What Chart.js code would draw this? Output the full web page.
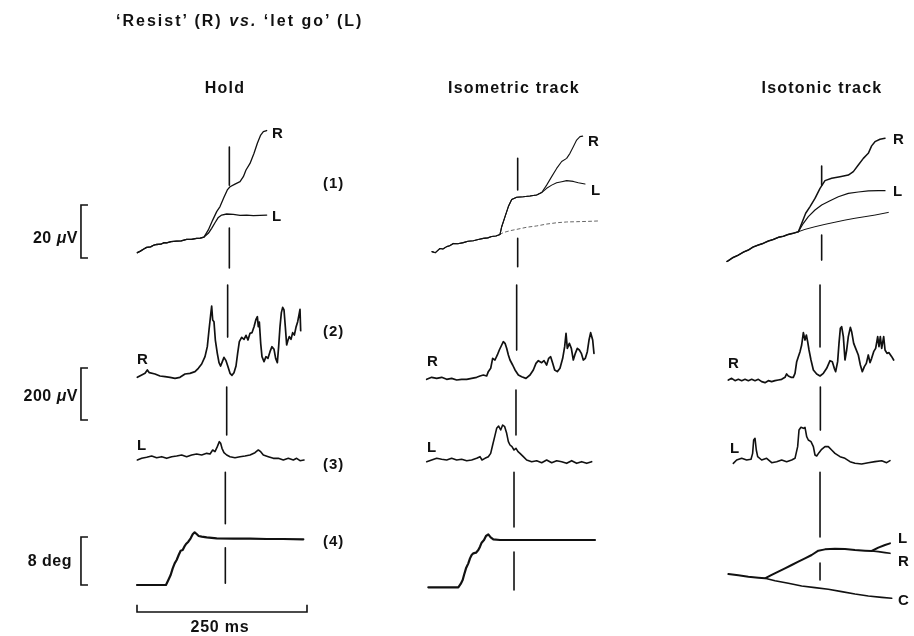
<!DOCTYPE html>
<html><head><meta charset="utf-8">
<script src="https://cdn.jsdelivr.net/npm/chart.js@4.4.1/dist/chart.umd.min.js"></script>
<style>
html,body{margin:0;padding:0;background:#fff;}
#wrap{position:relative;width:914px;height:636px;overflow:hidden;background:#fff;}
#c{position:absolute;left:0;top:0;}
.t{position:absolute;font-family:"Liberation Sans",Arial,sans-serif;font-weight:bold;color:#111;white-space:nowrap;line-height:1;}
</style></head><body>
<div id="wrap"><canvas id="c" width="914" height="636"></canvas></div>
<script>
// ---------- DATA (time in ms, amplitude in µV or deg) ----------
const columns = ['Hold', 'Isometric track', 'Isotonic track'];
const rowLabels = ['(1)', '(2)', '(3)', '(4)'];
const scaleBars = {uV20: 20, uV200: 200, deg8: 8, ms250: 250};

// Row 1 (20 µV scale)
const hold1Base = [[0.5,2.0],[5,2.6],[10,3.4],[14.2,4.0],[20,4.2],[25,4.9],[28.9,5.1],[35,5.2],[40,5.8],[43.6,5.7],[50,6.2],[58.3,6.4],[65,6.5],[73,7.0],[80,7.0],[87.7,7.4],[93,7.5],[98.5,7.9]];
const hold1R = [[104.9,10.6],[111.3,14.3],[117.2,17.5],[122.1,19.4],[127.9,22.9],[132.8,25.7],[136.8,26.9],[144.1,27.9],[151.5,28.8],[156.4,30.7],[160.3,33.2],[166.2,35.7],[172.1,39.5],[177.0,43.3],[181.9,46.4],[185.8,47.7],[190.7,48.1]];
const hold1L = [[104.9,9.3],[109.8,11.2],[114.7,13.3],[119.6,15.3],[124.5,16.2],[131.9,16.6],[141.7,16.5],[151.5,16.1],[161.3,16.2],[171.1,16.0],[180.9,16.1],[190.7,16.2]];

const isom1Base = [[0,2.4],[5,2.0],[11.8,3.6],[16,3.4],[21.6,4.3],[26,4.6],[31.4,5.5],[38,5.4],[46.1,5.8],[53,6.3],[60.8,6.5],[68,7.0],[75.5,7.4],[82,7.6],[87.7,8.1],[94,8.3],[100,8.9]];
const isom1Up = [[102.5,11.8],[107.4,15.6],[112.3,19.4],[117.2,22.1],[124.5,22.9],[134.3,23.1],[144.1,23.4],[153.9,23.8],[161.3,24.7]];
const isom1R = [[168.6,27.5],[176.0,30.7],[183.3,33.8],[190.7,36.4],[198.0,37.6],[202.9,39.5],[207.8,42.0],[212.7,44.5],[217.6,45.8],[221.6,46.0]];
const isom1L = [[168.6,26.3],[176.0,27.5],[183.3,28.4],[190.7,28.8],[198.0,29.2],[207.8,28.9],[215.2,28.4],[225.0,27.9]];
const isom1C = [[100,8.9],[104.9,9.6],[114.7,10.3],[124.5,10.8],[139.2,11.6],[153.9,12.1],[168.6,12.8],[183.3,13.3],[198.0,13.6],[212.7,13.7],[227.5,13.8],[247.1,14.0]];

const isot1Base = [[0,-1.3],[2,-1.0],[9,0.2],[16.7,1.1],[24,2.2],[31.4,3.0],[38,4.1],[46.1,4.9],[53,5.5],[60.8,6.4],[68,7.0],[75.5,7.8],[83,8.2],[90.2,8.9],[97,9.3],[104.9,9.9]];
const isot1R = [[110.8,13.7],[115.7,16.9],[122.1,19.4],[129.4,22.5],[136.8,26.3],[144.1,29.2],[153.9,30.1],[166.2,30.7],[178.4,31.3],[185.8,32.6],[193.1,35.1],[200.5,37.6],[207.8,39.5],[212.7,42.3],[217.6,43.9],[225.0,44.8],[232.4,45.2]];
const isot1L = [[112.3,13.1],[119.6,15.6],[129.4,18.1],[139.2,20.0],[151.5,21.6],[163.7,23.1],[178.4,24.4],[193.1,24.9],[207.8,25.3],[222.5,25.4],[232.4,25.4]];
const isot1C = [[114.7,10.8],[129.4,11.8],[144.1,12.7],[158.8,13.5],[173.5,14.3],[188.2,15.0],[202.9,15.6],[217.6,16.2],[237.3,17.2]];

// Row 2 (EMG, 'resist', 200 µV scale)
const hold2R = [[0.5,10.3],[6.9,19.2],[11.8,25.6],[15.2,38.5],[18.1,28.2],[26.5,23.1],[33.8,15.4],[41.2,12.8],[48.5,10.3],[55.9,6.4],[63.2,10.3],[70.6,23.1],[77.9,25.6],[85.3,32.1],[90.2,44.9],[95.1,61.5],[100.0,89.7],[103.4,128.2],[105.9,192.3],[108.3,250.0],[109.8,284.6],[111.3,230.8],[113.2,224.4],[115.2,153.8],[118.1,102.6],[120.6,66.7],[123.0,53.8],[125.5,70.5],[127.9,87.2],[130.9,74.4],[133.8,51.3],[136.8,25.6],[139.7,17.9],[142.6,28.2],[145.6,53.8],[148.0,102.6],[150.5,147.4],[153.9,164.1],[157.4,156.4],[160.3,171.8],[163.2,153.8],[166.2,179.5],[169.1,182.1],[172.1,205.1],[175.0,233.3],[177.0,243.6],[178.4,205.1],[179.9,222.4],[181.9,141.0],[183.8,89.7],[186.8,70.5],[189.7,89.7],[192.6,83.3],[195.6,109.0],[198.5,128.2],[201.5,117.9],[203.9,83.3],[206.4,66.7],[208.3,128.2],[210.3,205.1],[212.3,259.0],[214.2,279.5],[216.2,269.2],[218.1,205.1],[220.1,134.6],[222.1,153.8],[224.0,166.7],[226.5,156.4],[228.9,182.1],[231.4,173.1],[233.8,202.6],[236.3,224.4],[238.2,250.0],[239.7,271.8],[240.7,189.7]];
const isom2R = [[-7.8,2.6],[-0.5,10.3],[6.9,6.4],[14.2,10.3],[21.6,2.6],[28.9,6.4],[36.3,0],[43.6,2.6],[51.0,2.6],[58.3,6.4],[65.7,10.3],[70.6,15.4],[75.5,19.2],[80.4,15.4],[82.8,32.1],[86.3,44.9],[89.2,83.3],[92.6,76.9],[96.1,96.2],[99.0,115.4],[102.5,134.6],[104.9,147.4],[107.4,141.0],[109.8,121.8],[112.3,96.2],[114.7,76.9],[118.6,57.7],[122.1,38.5],[127.0,19.2],[131.9,12.8],[138.2,6.4],[144.1,19.2],[149.0,38.5],[152.9,64.1],[156.4,74.4],[161.3,66.7],[164.7,74.4],[168.6,57.7],[171.6,83.3],[174.5,89.7],[177.5,64.1],[180.4,38.5],[184.3,32.1],[188.2,44.9],[192.2,83.3],[195.1,128.2],[197.1,179.5],[199.0,121.8],[202.0,141.0],[204.9,121.8],[207.8,76.9],[210.8,102.6],[213.7,121.8],[216.7,115.4],[219.6,102.6],[222.5,76.9],[225.5,83.3],[228.4,109.0],[230.9,153.8],[233.3,182.1],[236.3,153.8],[238.2,102.6]];
const isot2R = [[2.0,0],[6.9,6.4],[11.8,-2.6],[16.7,2.6],[21.6,-2.6],[26.5,2.6],[31.4,-2.6],[36.3,2.6],[41.2,-2.6],[46.1,2.6],[51.0,-6.4],[55.9,-10.3],[60.8,-2.6],[65.7,-6.4],[70.6,-2.6],[75.5,0],[80.4,2.6],[85.3,10.3],[87.7,23.1],[90.2,15.4],[94.1,10.3],[97.5,10.3],[100.0,25.6],[102.5,70.5],[104.9,89.7],[107.4,109.0],[109.8,134.6],[112.3,182.1],[114.7,153.8],[116.7,173.1],[118.6,147.4],[120.6,115.4],[123.5,76.9],[127.0,38.5],[131.9,23.1],[136.8,15.4],[141.7,25.6],[146.6,44.9],[151.5,74.4],[154.9,70.5],[157.8,44.9],[159.8,32.1],[162.7,70.5],[164.7,141.0],[166.7,198.7],[168.6,205.1],[171.1,166.7],[173.5,76.9],[176.0,115.4],[178.4,166.7],[181.4,202.6],[183.3,185.9],[186.3,141.0],[189.2,121.8],[193.1,96.2],[196.1,57.7],[199.0,32.1],[202.0,51.3],[204.9,64.1],[207.8,96.2],[210.3,66.7],[212.7,83.3],[215.7,109.0],[218.6,121.8],[221.6,166.7],[223.5,128.2],[225.5,166.7],[227.5,121.8],[230.4,166.7],[232.4,115.4],[235.3,102.6],[238.2,105.1],[242.2,89.7],[245.1,76.9]];

// Row 3 (EMG, 'let go', 200 µV scale)
const hold3L = [[0.5,0],[6.9,6.4],[14.2,10.3],[21.6,15.4],[28.9,9.0],[36.3,12.8],[43.6,6.4],[51.0,12.8],[58.3,15.4],[65.7,19.2],[73.0,12.8],[80.4,19.2],[87.7,23.1],[95.1,19.2],[102.5,25.6],[107.4,23.1],[111.3,38.5],[114.7,32.1],[118.1,51.3],[121.1,70.5],[123.0,64.1],[125.0,44.9],[127.9,28.2],[131.9,19.2],[136.8,12.8],[144.1,9.0],[151.5,12.8],[158.8,15.4],[166.2,19.2],[173.5,28.2],[178.4,38.5],[181.9,32.1],[185.8,19.2],[193.1,12.8],[200.5,6.4],[207.8,6.4],[215.2,0],[222.5,6.4],[229.9,0],[234.8,6.4],[239.7,-2.6],[245.6,0]];
const isom3L = [[-7.8,-6.4],[-0.5,0],[6.9,6.4],[14.2,2.6],[21.6,0],[28.9,6.4],[36.3,0],[43.6,2.6],[51.0,-2.6],[58.3,0],[65.7,6.4],[70.6,12.8],[73.5,0],[77.9,6.4],[82.8,12.8],[86.3,25.6],[89.2,57.7],[92.2,89.7],[95.1,121.8],[98.0,130.8],[101.0,115.4],[103.9,134.6],[106.9,128.2],[109.8,102.6],[112.3,70.5],[114.7,57.7],[117.6,51.3],[120.6,38.5],[123.5,44.9],[126.5,32.1],[129.4,25.6],[134.3,12.8],[139.2,0],[146.6,-6.4],[153.9,-2.6],[161.3,-10.3],[168.6,0],[176.0,-10.3],[183.3,-2.6],[190.7,-6.4],[198.0,-12.8],[205.4,-2.6],[212.7,-12.8],[220.1,-6.4],[227.5,-12.8],[234.8,-6.4]];
const isot3L = [[9.3,-12.8],[14.2,0],[21.6,6.4],[28.9,0],[35.3,2.6],[37.7,25.6],[39.2,76.9],[41.2,83.3],[43.1,38.5],[45.1,12.8],[51.0,0],[58.3,6.4],[65.7,-10.3],[73.0,-6.4],[80.4,0],[87.7,-6.4],[95.1,0],[100.0,6.4],[103.9,51.3],[105.9,115.4],[108.8,125.6],[112.3,121.8],[114.7,125.6],[117.2,89.7],[119.6,76.9],[123.5,70.5],[127.0,51.3],[129.4,19.2],[131.9,15.4],[135.3,28.2],[139.2,41.0],[144.1,51.3],[149.0,51.3],[153.9,38.5],[158.8,25.6],[166.2,12.8],[173.5,6.4],[180.9,-6.4],[188.2,-12.8],[198.0,-15.4],[207.8,-10.3],[217.6,-6.4],[227.5,-2.6],[234.8,-10.3],[239.7,-2.6]];

// Row 4 (position, 8 deg scale)
const hold4 = [[0,0],[14.2,0],[28.9,0],[42.6,0],[46.1,0.83],[49.5,1.67],[52.5,2.78],[55.4,3.61],[58.3,4.17],[61.3,5.0],[64.2,5.72],[67.2,5.83],[69.6,6.39],[72.1,6.83],[75.5,7.22],[78.9,7.78],[81.9,8.44],[84.8,8.78],[87.7,8.5],[90.7,8.17],[95.1,8.06],[102.5,7.94],[117.2,7.78],[141.7,7.72],[166.2,7.72],[190.7,7.67],[215.2,7.67],[244.6,7.61]];
const isom4 = [[-5.4,-0.39],[6.9,-0.39],[21.6,-0.39],[38.7,-0.39],[42.2,0.17],[45.1,0.83],[47.1,1.67],[50.0,2.78],[53.4,3.61],[55.9,4.44],[58.3,5.0],[60.8,5.28],[64.7,5.39],[68.1,5.83],[70.6,6.39],[73.0,7.06],[76.5,7.5],[79.4,8.17],[82.8,8.44],[86.3,7.94],[90.2,7.61],[100.0,7.5],[119.6,7.5],[144.1,7.5],[178.4,7.5],[207.8,7.5],[239.7,7.5]];
const isot4Base = [[2.0,1.83],[16.7,1.61],[31.4,1.39],[46.1,1.22],[55.9,1.11]];
const isot4Up = [[65.7,1.67],[75.5,2.22],[85.3,2.78],[95.1,3.33],[104.9,3.89],[114.7,4.44],[124.5,5.0],[134.3,5.72],[144.1,5.94],[158.8,6.06],[173.5,6.0],[188.2,5.83],[202.9,5.72],[212.7,5.67]];
const isot4L = [[222.5,6.22],[232.4,6.67],[239.7,6.94]];
const isot4R = [[222.5,5.56],[232.4,5.39],[239.7,5.28]];
const isot4C = [[70.6,0.72],[90.2,0.28],[109.8,-0.17],[129.4,-0.44],[149.0,-0.72],[168.6,-1.11],[188.2,-1.5],[207.8,-1.83],[227.5,-2.06],[242.2,-2.22]];

// Event marker (ms) per column and row: [row, time, from, to]
const holdMarker = [[0,135.8,41.9,27.5],[0,135.8,11.3,-3.8],[1,133.3,365,165],[2,131.9,281,96],[3,129.9,18.8,10.2],[3,129.9,6.2,0.3]];
const isomMarker = [[0,126.0,37.6,25.7],[0,126.0,7.4,-3.3],[1,124.5,365,115],[2,123.5,269,96],[3,120.6,18.8,9.67],[3,120.6,5.5,-0.83]];
const isotMarker = [[0,139.2,34.7,27.5],[0,139.2,8.7,-0.8],[1,136.8,365,127],[2,137.3,281,115],[3,136.8,18.8,8.0],[3,136.8,3.67,0.83]];

// ---------- LAYOUT (pixels) ----------
const W = 914, H = 636, PX_PER_MS = 0.68;
const colOrigin = [137, 432, 727];
const rowGeom = [{o:258,k:2.65},{o:380,k:0.26},{o:460,k:0.26},{o:585,k:6}];
const scales = {};
colOrigin.forEach((o,i)=>{ scales['x'+i] = {type:'linear',display:false,min:-o/PX_PER_MS,max:(W-o)/PX_PER_MS}; });
rowGeom.forEach((g,i)=>{ scales['y'+i] = {type:'linear',display:false,min:-(H-g.o)/g.k,max:g.o/g.k}; });

const datasets = [];
function add(pts, col, row, w, extra){
  datasets.push(Object.assign({
    data: pts.map(p=>({x:p[0],y:p[1]})), xAxisID:'x'+col, yAxisID:'y'+row,
    showLine:true, borderColor:'#111', borderWidth:w, pointRadius:0, tension:0,
    borderJoinStyle:'round', borderCapStyle:'round', fill:false
  }, extra||{}));
}
// Row 1
add(hold1Base.concat(hold1R),0,0,1.3);
add(hold1Base.concat(hold1L),0,0,1.3);
add(isom1Base.concat(isom1Up,isom1R),1,0,1.1);
add(isom1Base.concat(isom1Up,isom1L),1,0,1.1);
add(isom1C,1,0,1,{borderColor:'#666',borderDash:[3,3]});
add(isot1Base.concat(isot1R),2,0,1.5);
add(isot1Base.concat(isot1L),2,0,1.2);
add(isot1Base.slice(-1).concat(isot1C),2,0,1);
// Rows 2,3
add(hold2R,0,1,1.7); add(isom2R,1,1,1.7); add(isot2R,2,1,1.7);
add(hold3L,0,2,1.6); add(isom3L,1,2,1.6); add(isot3L,2,2,1.6);
// Row 4
add(hold4,0,3,2.2); add(isom4,1,3,2.2);
add(isot4Base.concat(isot4Up,isot4L),2,3,2);
add(isot4Up.slice(-1).concat(isot4R),2,3,1.6);
add(isot4Base.slice(-1).concat(isot4C),2,3,1.6);
// Markers
[holdMarker,isomMarker,isotMarker].forEach((m,col)=>m.forEach(s=>add([[s[1],s[2]],[s[1],s[3]]],col,s[0],1.6,{borderCapStyle:'butt'})));
// Scale bars (drawn in the Hold column coordinates, left of the traces)
const BX0 = -82.4, BX1 = -72.1;
add([[BX1,scaleBars.uV20],[BX0,scaleBars.uV20],[BX0,0],[BX1,0]],0,0,1.6,{borderCapStyle:'butt',borderJoinStyle:'miter'});
const b2 = 46.2;
add([[BX1,b2],[BX0,b2],[BX0,b2-scaleBars.uV200],[BX1,b2-scaleBars.uV200]],0,1,1.6,{borderCapStyle:'butt',borderJoinStyle:'miter'});
add([[BX1,scaleBars.deg8],[BX0,scaleBars.deg8],[BX0,0],[BX1,0]],0,3,1.6,{borderCapStyle:'butt',borderJoinStyle:'miter'});
add([[0,-3.3],[0,-4.5],[scaleBars.ms250,-4.5],[scaleBars.ms250,-3.3]],0,3,1.6,{borderCapStyle:'butt',borderJoinStyle:'miter'});

new Chart(document.getElementById('c'), {
  type:'scatter',
  data:{datasets},
  options:{
    responsive:false, animation:false, devicePixelRatio:1,
    layout:{padding:0},
    scales,
    plugins:{legend:{display:false},tooltip:{enabled:false},title:{display:false}},
    events:[]
  }
});

// ---------- TEXT ----------
const wrap = document.getElementById('wrap');
function txt(html, x, y, size, align, ls){
  const d = document.createElement('div');
  d.className='t'; d.innerHTML = html;
  d.style.fontSize = size+'px';
  d.style.letterSpacing = (ls||0)+'px';
  d.style.top = (y - size/2)+'px';
  if(align==='left'){ d.style.left = x+'px'; }
  else if(align==='right'){ d.style.right = (W-x)+'px'; }
  else { d.style.left = x+'px'; d.style.transform='translateX(-50%)'; }
  wrap.appendChild(d);
}
txt('‘Resist’ (R) <i>vs.</i> ‘let go’ (L)', 116, 21, 16, 'left', 2.0);
const headerX = [225, 514, 822];
columns.forEach((c,i)=>txt(c, headerX[i], 88, 16, 'center', 1.2));
const rowLabelY = [182, 330, 463, 540];
rowLabels.forEach((r,i)=>txt(r, 323, rowLabelY[i], 15, 'left', 1));
txt('20 <span style="font-style:italic">μ</span>V', 78, 238, 16, 'right', 0.5);
txt('200 <span style="font-style:italic">μ</span>V', 78, 396, 16, 'right', 0.5);
txt('8 deg', 72, 561, 16, 'right', 0.5);
txt('250 ms', 220, 627, 16, 'center', 0.8);
// trace labels
[['R',272,132],['L',272,215],['R',588,140],['L',591,189],['R',893,138],['L',893,190],
 ['R',137,358],['L',137,444],['R',427,360],['L',427,446],['R',728,362],['L',730,447],
 ['L',898,537],['R',898,560],['C',898,599]].forEach(l=>txt(l[0],l[1],l[2],15,'left',0));
</script>
</body></html>
